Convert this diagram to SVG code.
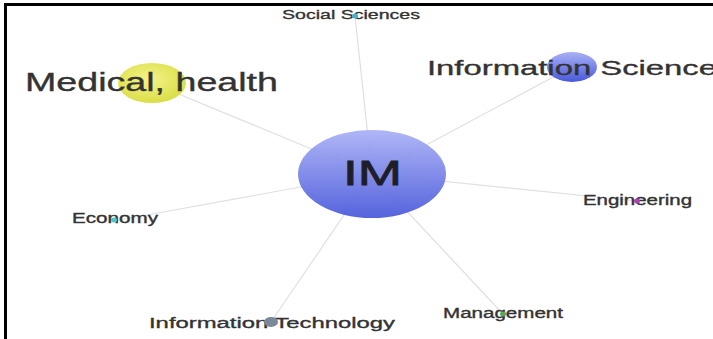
<svg xmlns="http://www.w3.org/2000/svg" width="713" height="339" viewBox="0 0 713 339">
<defs>
<linearGradient id="gBlue" x1="0" y1="0" x2="0" y2="1">
<stop offset="0" stop-color="#aab1f6"/>
<stop offset="1" stop-color="#4858da"/>
</linearGradient>
<radialGradient id="gYellow" cx="0.45" cy="0.4" r="0.7">
<stop offset="0" stop-color="#f4f48a"/>
<stop offset="1" stop-color="#d6da3c"/>
</radialGradient>
</defs>
<style>
.edge{stroke:#e0e0e0;stroke-width:1.2;fill:none}
.lbl{font-family:"Liberation Sans",Arial,sans-serif;fill:#333;stroke:#333;stroke-width:0.35}
.dot{stroke:none}
</style>
<rect x="0" y="0" width="713" height="339" fill="#ffffff"/>
<path d="M5.5,339 V4.5 H713" fill="none" stroke="#000" stroke-width="3"/>
<g id="connectors">
<line class="edge" x1="372" y1="174" x2="152" y2="83"/>
<line class="edge" x1="372" y1="174" x2="355" y2="16"/>
<line class="edge" x1="372" y1="174" x2="572" y2="67"/>
<line class="edge" x1="372" y1="174" x2="637" y2="201"/>
<line class="edge" x1="372" y1="174" x2="114" y2="221"/>
<line class="edge" x1="372" y1="174" x2="271" y2="322"/>
<line class="edge" x1="372" y1="174" x2="503" y2="314"/>
</g>
<g id="node-medical">
<ellipse cx="152" cy="83" rx="34" ry="20" fill="url(#gYellow)"/>
<text class="lbl" x="25" y="91" font-size="26" textLength="253" lengthAdjust="spacingAndGlyphs">Medical, health</text>
</g>
<g id="node-infosci">
<ellipse cx="572" cy="67" rx="25" ry="15" fill="url(#gBlue)"/>
<text class="lbl" x="427" y="75" font-size="21" textLength="290" lengthAdjust="spacingAndGlyphs">Information Science</text>
</g>
<g id="node-im">
<ellipse cx="372" cy="174" rx="74" ry="44" fill="url(#gBlue)" opacity="0.93"/>
<text class="lbl" x="343" y="185" font-size="35" textLength="59" lengthAdjust="spacingAndGlyphs" style="fill:#1e1e2a;stroke:#1e1e2a;stroke-width:0.8">IM</text>
</g>
<g id="node-social">
<text class="lbl" x="282" y="19" font-size="13.5" textLength="138" lengthAdjust="spacingAndGlyphs">Social Sciences</text>
<ellipse class="dot" cx="355" cy="16" rx="3" ry="2.5" fill="#4fb3c8"/>
</g>
<g id="node-engineering">
<text class="lbl" x="583" y="205" font-size="14" textLength="109" lengthAdjust="spacingAndGlyphs">Engineering</text>
<ellipse class="dot" cx="637" cy="201" rx="3" ry="2.5" fill="#b040b8"/>
</g>
<g id="node-economy">
<text class="lbl" x="72" y="223" font-size="14" textLength="86" lengthAdjust="spacingAndGlyphs">Economy</text>
<ellipse class="dot" cx="114" cy="220" rx="3" ry="2.5" fill="#50c8c0"/>
</g>
<g id="node-management">
<text class="lbl" x="443" y="318" font-size="14" textLength="120" lengthAdjust="spacingAndGlyphs">Management</text>
<ellipse class="dot" cx="503" cy="314" rx="3" ry="2.5" fill="#58a860"/>
</g>
<g id="node-it">
<text class="lbl" x="149" y="328" font-size="15.5" textLength="246" lengthAdjust="spacingAndGlyphs">Information Technology</text>
<ellipse class="dot" cx="271" cy="322" rx="7" ry="5" fill="#7a8898"/>
</g>
</svg>
